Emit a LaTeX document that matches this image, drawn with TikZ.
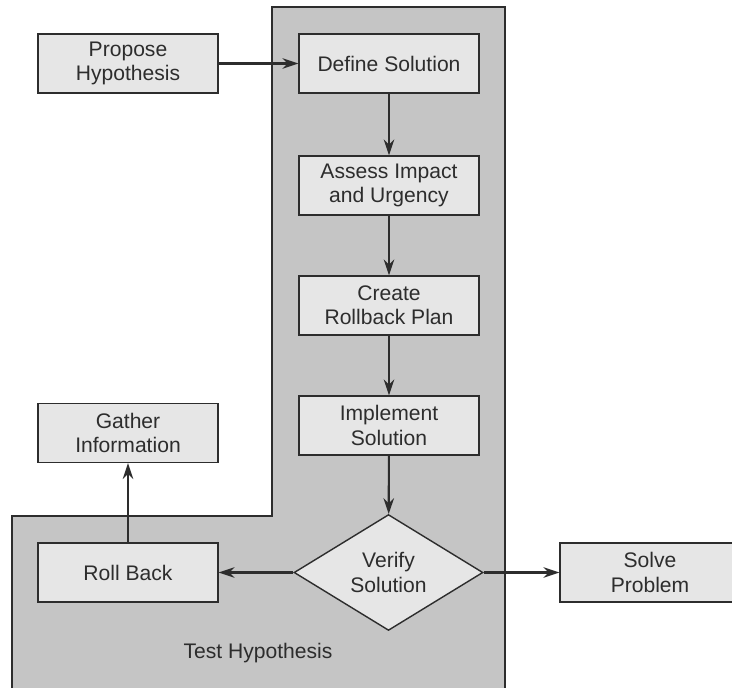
\documentclass[tikz,border=0pt]{standalone}
\usepackage{fontspec}
\setmainfont{Liberation Sans}
\usetikzlibrary{arrows.meta,shapes.geometric}
\definecolor{regiongray}{RGB}{197,197,197}
\definecolor{boxgray}{RGB}{230,230,230}
\definecolor{linegray}{RGB}{45,45,45}
\tikzset{
	stepbox/.style={draw=linegray, fill=boxgray, line width=0.8pt, minimum width=3.6cm, minimum height=1.18cm, inner sep=0pt, align=center, text=linegray, font=\fontsize{12}{13.8}\selectfont},
	checkbox/.style={diamond, draw=linegray, fill=boxgray, line width=0.8pt, minimum width=3.78cm, minimum height=2.14cm, inner sep=0pt, align=center, text=linegray, font=\fontsize{12}{13.8}\selectfont},
	flow/.style={draw=linegray, line width=1.2pt, -{Stealth[length=9pt, width=6pt]}}
}
\begin{document}
\begin{tikzpicture}[x=0.02cm, y=-0.02cm]
				\useasboundingbox (0,0) rectangle (732,688);
				%test region
				\draw[fill=regiongray, draw=linegray, line width=0.8pt] (12,700) -- (12,516) -- (272,516) -- (272,7) -- (505,7) -- (505,700);
				\node (test) at (258,653) [text=linegray, font=\fontsize{12}{13.8}\selectfont]{Test Hypothesis};
				
				%steps
				\node (propose) at (128,63.5) [stepbox]{Propose\\Hypothesis};
				\node (define) at (389,63.5) [stepbox]{Define Solution};
				\node (assess) at (389,185.5) [stepbox]{Assess Impact\\and Urgency};
				\node (rollplan) at (389,305.5) [stepbox]{Create\\Rollback Plan};
				\node (implement) at (389,425.5) [stepbox]{Implement\\Solution};
				\node (verify) at (388.5,572.5) [checkbox]{Verify\\Solution};
				\node (rollback) at (128,572.5) [stepbox]{Roll Back};
				\node (gather) at (128,433) [stepbox]{Gather\\Information};
				\node (solve) at (650,572.5) [stepbox]{Solve\\Problem};
				
				%arrows
				\draw[flow] (propose) -- (define);
				\draw[flow] (define) -- (assess);
				\draw[flow] (assess) -- (rollplan);
				\draw[flow] (rollplan) -- (implement);
				\draw[flow] (implement) -- (verify);
				\draw[flow] (verify) -- (rollback);
				\draw[flow] (verify) -- (solve);
				\draw[flow] (rollback) -- (gather);
\end{tikzpicture}
\end{document}
